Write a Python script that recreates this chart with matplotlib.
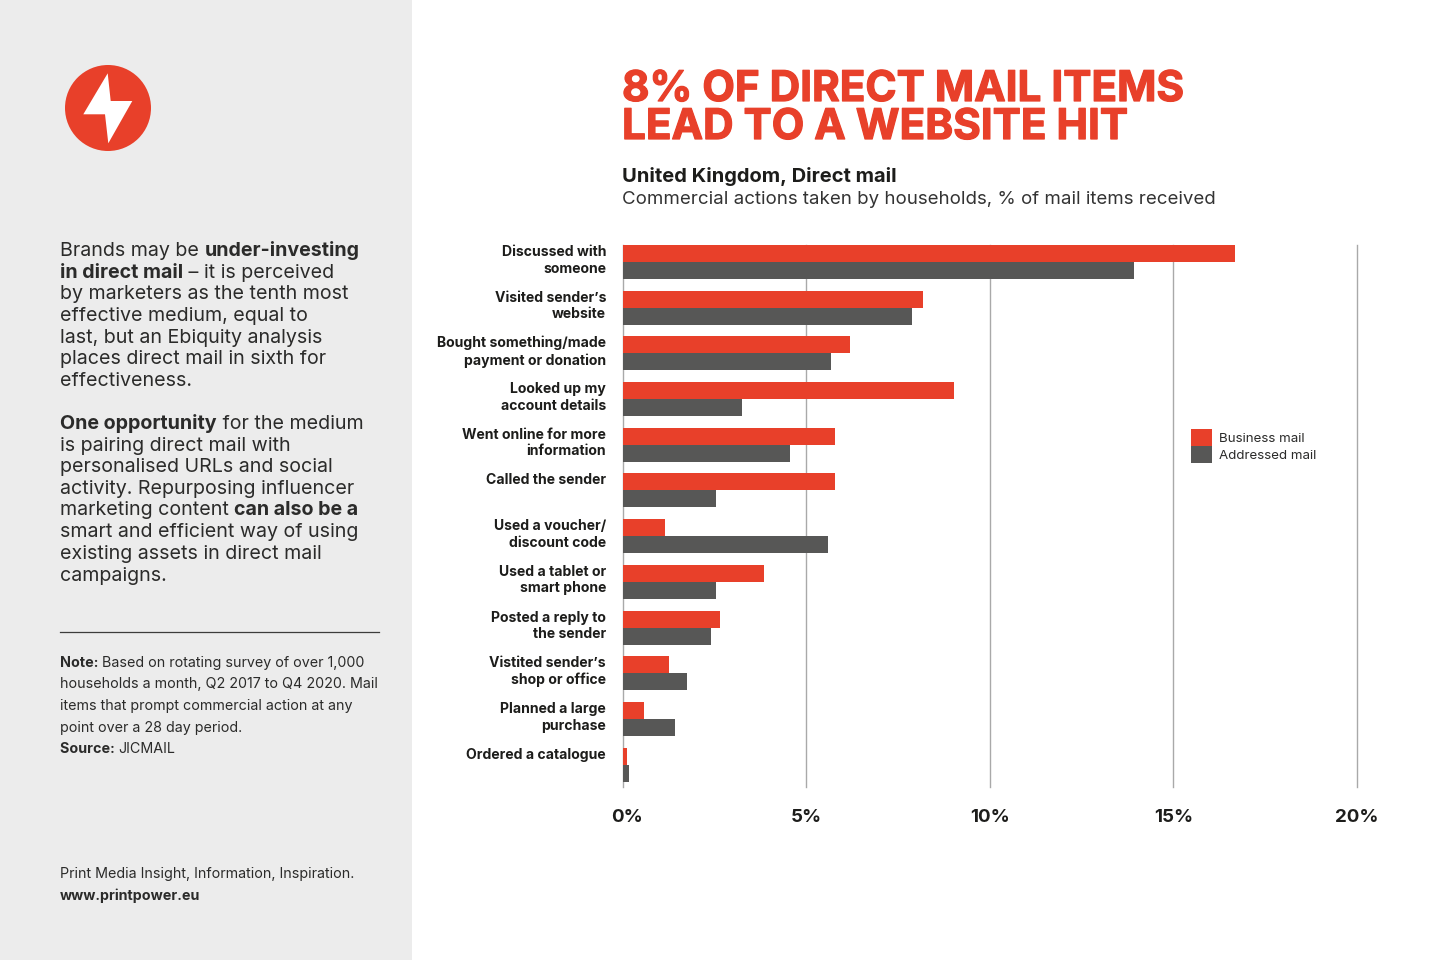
import matplotlib
matplotlib.use("Agg")
import matplotlib.pyplot as plt
import matplotlib.patheffects as pe
from matplotlib.patches import Rectangle, Circle, Polygon
from matplotlib.lines import Line2D
from matplotlib.transforms import ScaledTranslation

categories = [
    "Discussed with\nsomeone", "Visited sender’s\nwebsite",
    "Bought something/made\npayment or donation", "Looked up my\naccount details",
    "Went online for more\ninformation", "Called the sender\n ",
    "Used a voucher/\ndiscount code", "Used a tablet or\nsmart phone",
    "Posted a reply to\nthe sender", "Vistited sender’s\nshop or office",
    "Planned a large\npurchase", "Ordered a catalogue\n ",
]
business_mail = [16.67, 8.18, 6.19, 9.02, 5.78, 5.78, 1.16, 3.85, 2.65, 1.27, 0.58, 0.12]
addressed_mail = [13.92, 7.88, 5.67, 3.25, 4.56, 2.54, 5.59, 2.54, 2.41, 1.76, 1.43, 0.18]
x_ticks = [0, 5, 10, 15, 20]
x_labels = ["0%", "5%", "10%", "15%", "20%"]

RED = "#E8402A"
DARK = "#575756"
INK = "#1D1D1B"
FONT = "Inter"
plt.rcParams["font.family"] = [FONT, "DejaVu Sans"]

W, H = 1440, 960
fig = plt.figure(figsize=(W / 100, H / 100), dpi=100, facecolor="white")

page = fig.add_axes([0, 0, 1, 1], zorder=0)
page.set_xlim(0, W)
page.set_ylim(H, 0)
page.axis("off")
page.add_patch(Rectangle((0, 0), 412, H, fc="#ECECEC", ec="none"))
page.add_patch(Circle((108, 108), 43, fc=RED, ec="none"))
page.add_patch(Polygon([(107.7, 73.3), (83.3, 114.3), (105, 114.3), (108.3, 143.3),
                        (132.3, 101), (110.7, 101)], closed=True, fc="white", ec="none"))
page.add_line(Line2D([60, 379], [631.5, 631.5], color="#3c3c3b", lw=0.9))


def put(x, y, runs, size, color=INK):
    """Draw one line of mixed regular/bold runs with its baseline at pixel (x, y)."""
    r = fig.canvas.get_renderer()
    for text, bold in runs:
        t = page.text(x, y, text, fontsize=size, color=color, va="baseline", ha="left",
                      fontweight="bold" if bold else "normal")
        x = page.transData.inverted().transform(t.get_window_extent(r).p1)[0]


title = page.text(622, 139, "8% OF DIRECT MAIL ITEMS\nLEAD TO A WEBSITE HIT", fontsize=30.4, color=RED,
                  fontweight="bold", va="baseline", ha="left", linespacing=1.0)
title.set_path_effects([pe.withStroke(linewidth=0.9, foreground=RED)])
put(622, 182, [("United Kingdom, Direct mail", True)], 14.5, INK)
put(622, 203.5, [("Commercial actions taken by households, % of mail items received", False)], 13.45, "#333333")

body = [
    (256, [("Brands may be ", False), ("under-investing", True)]),
    (278, [("in direct mail", True), (" – it is perceived", False)]),
    (299, [("by marketers as the tenth most", False)]),
    (321, [("effective medium, equal to", False)]),
    (343, [("last, but an Ebiquity analysis", False)]),
    (364, [("places direct mail in sixth for", False)]),
    (386, [("effectiveness.", False)]),
    (429, [("One opportunity", True), (" for the medium", False)]),
    (451, [("is pairing direct mail with", False)]),
    (472, [("personalised URLs and social", False)]),
    (494, [("activity. Repurposing influencer", False)]),
    (515, [("marketing content ", False), ("can also be a", True)]),
    (537, [("smart and efficient way of using", False)]),
    (559, [("existing assets in direct mail", False)]),
    (581, [("campaigns.", False)]),
]
for y, runs in body:
    put(60, y, runs, 14.15, "#2b2b2a")

notes = [
    (667, [("Note: ", True), ("Based on rotating survey of over 1,000", False)]),
    (688, [("households a month, Q2 2017 to Q4 2020. Mail", False)]),
    (710, [("items that prompt commercial action at any", False)]),
    (732, [("point over a 28 day period.", False)]),
    (753, [("Source: ", True), ("JICMAIL", False)]),
    (878, [("Print Media Insight, Information, Inspiration.", False)]),
    (900, [("www.printpower.eu", True)]),
]
for y, runs in notes:
    put(60, y, runs, 10.3, "#2b2b2a")

# Chart axes: x 622.7..1357 px, y 245..787 px; groups are 45.7 px apart
left, right, top, bottom = 622.7, 1357.0, 245.0, 787.0
ax = fig.add_axes([left / W, 1 - bottom / H, (right - left) / W, (bottom - top) / H], zorder=1)
ax.patch.set_alpha(0)
pos = list(range(len(categories)))
bar_h = 17 / 45.7
ax.barh([p - bar_h / 2 for p in pos], business_mail, height=bar_h, color=RED, zorder=3, label="Business mail")
ax.barh([p + bar_h / 2 for p in pos], addressed_mail, height=bar_h, color=DARK, zorder=3, label="Addressed mail")
ax.set_xlim(0, 20)
ax.set_ylim(11.49, -0.372)
for s in ax.spines.values():
    s.set_visible(False)
ax.set_xticks(x_ticks)
ax.set_xticklabels(x_labels, fontsize=13.5, fontweight="bold", color=INK)
ax.xaxis.grid(True, color="#A9A9A9", lw=1.0, zorder=1)
for line in ax.get_xgridlines():
    line.set_clip_on(False)
ax.tick_params(axis="x", length=0, pad=15.5)
ax.set_yticks(pos)
ax.set_yticklabels(categories, fontsize=10.1, fontweight="bold", color=INK, linespacing=1.24, ha="right")
ax.tick_params(axis="y", length=0, pad=12)
up = ScaledTranslation(0, 4.5 / 100, fig.dpi_scale_trans)
for lab in ax.get_yticklabels():
    lab.set_transform(lab.get_transform() + up)
nudge = ScaledTranslation(4 / 100, 0, fig.dpi_scale_trans)
ax.get_xticklabels()[0].set_transform(ax.get_xticklabels()[0].get_transform() + nudge)

ax.legend(loc="upper left", bbox_to_anchor=(1191 / W, 1 - 429 / H), bbox_transform=fig.transFigure,
          frameon=False, prop={"size": 9.6, "family": FONT}, borderpad=0, borderaxespad=0,
          handlelength=21 / 13.33, handleheight=1.585, handletextpad=7 / 13.33,
          labelspacing=0, labelcolor="#2b2b2a")
for patch in ax.get_legend().get_patches():
    patch.set_linewidth(0)

fig.savefig("out.png", dpi=100, facecolor="white")
